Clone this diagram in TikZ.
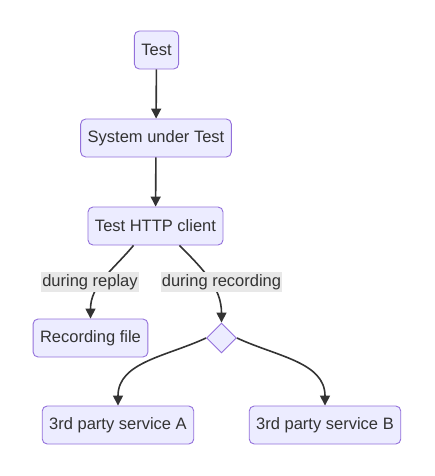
\documentclass[tikz,border=0pt]{standalone}
\usepackage{fontspec}
\setmainfont{Liberation Sans}
\usetikzlibrary{arrows.meta,shapes.geometric}
\definecolor{boxfill}{HTML}{ECECFF}
\definecolor{boxline}{HTML}{9370DB}
\definecolor{ink}{HTML}{333333}
\definecolor{lblfill}{HTML}{E8E8E8}
\tikzset{
	flowbox/.style={draw=boxline, fill=boxfill, rounded corners=5pt, line width=0.9pt,
		minimum height=38pt, inner xsep=7pt, text=ink,
		font=\fontsize{16.5}{19}\selectfont},
	choice/.style={draw=boxline, fill=boxfill, diamond, line width=0.9pt,
		minimum width=30pt, minimum height=30pt, inner sep=0pt},
	edgelbl/.style={fill=lblfill, text=ink, inner xsep=1pt, inner ysep=2pt,
		font=\fontsize{16.5}{19}\selectfont},
	flow/.style={->, draw=ink, line width=1.6pt}
}
\begin{document}
\begin{tikzpicture}[x=1pt, y=-1pt, >={Triangle[length=10pt,width=10pt]}]
\useasboundingbox (0,0) rectangle (435,476);

\node[flowbox] (test) at (156.5,50) {Test};
\node[flowbox] (sut) at (156,138) {System under Test};
\node[flowbox] (client) at (155.5,226) {Test HTTP client};
\node[flowbox] (recfile) at (90.5,338) {Recording file};
\node[choice] (pick) at (221.5,338) {};
\node[flowbox] (svca) at (118,425) {3rd party service A};
\node[flowbox] (svcb) at (325,425) {3rd party service B};

\draw[flow] (test) -- (sut);
\draw[flow] (sut) -- (client);
\draw[flow] ([xshift=-22pt]client.south) to[out=-130,in=90] (recfile.north);
\draw[flow] ([xshift=24pt]client.south) to[out=-45,in=90] (pick.north);
\draw[flow] (pick.west) to[out=-155,in=90] (svca.north);
\draw[flow] (pick.east) to[out=-25,in=90] (svcb.north);

% labels sit on top of the curves
\node[edgelbl] (lblreplay) at (90,282) {during replay};
\node[edgelbl] (lblrec) at (221.5,282) {during recording};
\end{tikzpicture}
\end{document}
